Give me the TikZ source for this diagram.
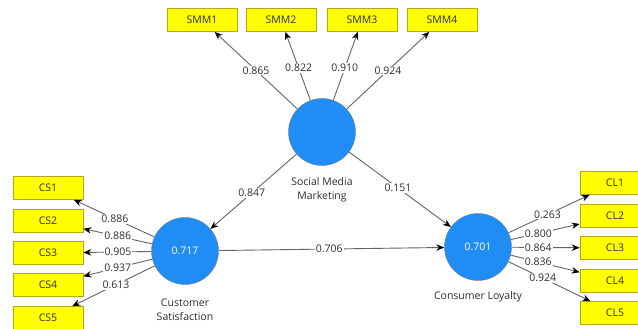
\documentclass[tikz,border=0pt]{standalone}
\usepackage{fontspec}
\setmainfont{Open Sans}
\usetikzlibrary{arrows.meta}
\definecolor{lvblue}{RGB}{32,140,245}
\definecolor{lvrim}{RGB}{110,130,150}
\definecolor{boxyellow}{RGB}{255,255,0}
\definecolor{boxedge}{RGB}{185,165,20}
\definecolor{linegray}{RGB}{100,100,100}
\definecolor{txtgray}{RGB}{45,45,45}
\tikzset{
  latent/.style={circle,fill=lvblue,draw=lvrim,line width=0.4pt,minimum size=67pt,inner sep=0pt,text=white,font=\fontsize{10.5}{12}\selectfont},
  indic/.style={rectangle,fill=boxyellow,draw=boxedge,line width=0.7pt,minimum width=70pt,minimum height=23pt,inner sep=0pt,text=txtgray,font=\fontsize{10.5}{12}\selectfont},
  conn/.style={draw=linegray,line width=0.9pt,-{Stealth[length=8pt,width=6.5pt,black]}},
  wt/.style={fill=white,inner sep=1pt,text=txtgray,font=\fontsize{10.5}{12}\selectfont},
  lvcaption/.style={text=txtgray,align=center,font=\fontsize{10.5}{14}\selectfont},
}
\begin{document}
\begin{tikzpicture}[x=1pt,y=-1pt]
\useasboundingbox (0,0) rectangle (638,329);
\clip (0,0) rectangle (638,329);
\fill[white] (0,0) rectangle (638,329);
% latent variables
\node[latent] (smm) at (322,132) {};
\node[latent] (cs) at (185,251) {0.717};
\node[latent] (cl) at (478,247) {0.701};
\node[lvcaption] (smmlab) at (322,190) {Social Media\\Marketing};
\node[lvcaption] (cslab) at (185,310) {Customer\\Satisfaction};
\node[lvcaption] (cllab) at (478,297) {Consumer Loyalty};
% indicators
\node[indic] (smm1) at (202,20) {SMM1};
\node[indic] (smm2) at (281,20) {SMM2};
\node[indic] (smm3) at (362,20) {SMM3};
\node[indic] (smm4) at (442,20) {SMM4};
\node[indic] (cs1) at (48,188) {CS1};
\node[indic] (cs2) at (48,221) {CS2};
\node[indic] (cs3) at (48,253) {CS3};
\node[indic] (cs4) at (48,285) {CS4};
\node[indic] (cs5) at (48,318) {CS5};
\node[indic] (cl1) at (615,183) {CL1};
\node[indic] (cl2) at (615,216) {CL2};
\node[indic] (cl3) at (615,248) {CL3};
\node[indic] (cl4) at (615,281) {CL4};
\node[indic] (cl5) at (615,313) {CL5};
% loadings
\draw[conn] (smm) -- node[wt,pos=0.5] (l1) {0.865} (smm1);
\draw[conn] (smm) -- node[wt,pos=0.47] (l2) {0.822} (smm2);
\draw[conn] (smm) -- node[wt,pos=0.47] (l3) {0.910} (smm3);
\draw[conn] (smm) -- node[wt,pos=0.5] (l4) {0.924} (smm4);
\draw[conn] (cs) -- node[wt,pos=0.49] (l5) {0.886} (cs1);
\draw[conn] (cs) -- node[wt,pos=0.5] (l6) {0.886} (cs2);
\draw[conn] (cs) -- node[wt,pos=0.49] (l7) {0.905} (cs3);
\draw[conn] (cs) -- node[wt,pos=0.5] (l8) {0.937} (cs4);
\draw[conn] (cs) -- node[wt,pos=0.47] (l9) {0.613} (cs5);
\draw[conn] (cl) -- node[wt,pos=0.48] (l10) {0.263} (cl1);
\draw[conn] (cl) -- node[wt,pos=0.4] (l11) {0.800} (cl2);
\draw[conn] (cl) -- node[wt,pos=0.39] (l12) {0.864} (cl3);
\draw[conn] (cl) -- node[wt,pos=0.4] (l13) {0.836} (cl4);
\draw[conn] (cl) -- node[wt,pos=0.42] (l14) {0.924} (cl5);
% paths
\draw[conn] (smm) -- node[wt,pos=0.52] (p1) {0.847} (cs);
\draw[conn] (smm) -- node[wt,pos=0.48] (p2) {0.151} (cl);
\draw[conn] (cs) -- node[wt,pos=0.49] (p3) {0.706} (cl);
\end{tikzpicture}
\end{document}
